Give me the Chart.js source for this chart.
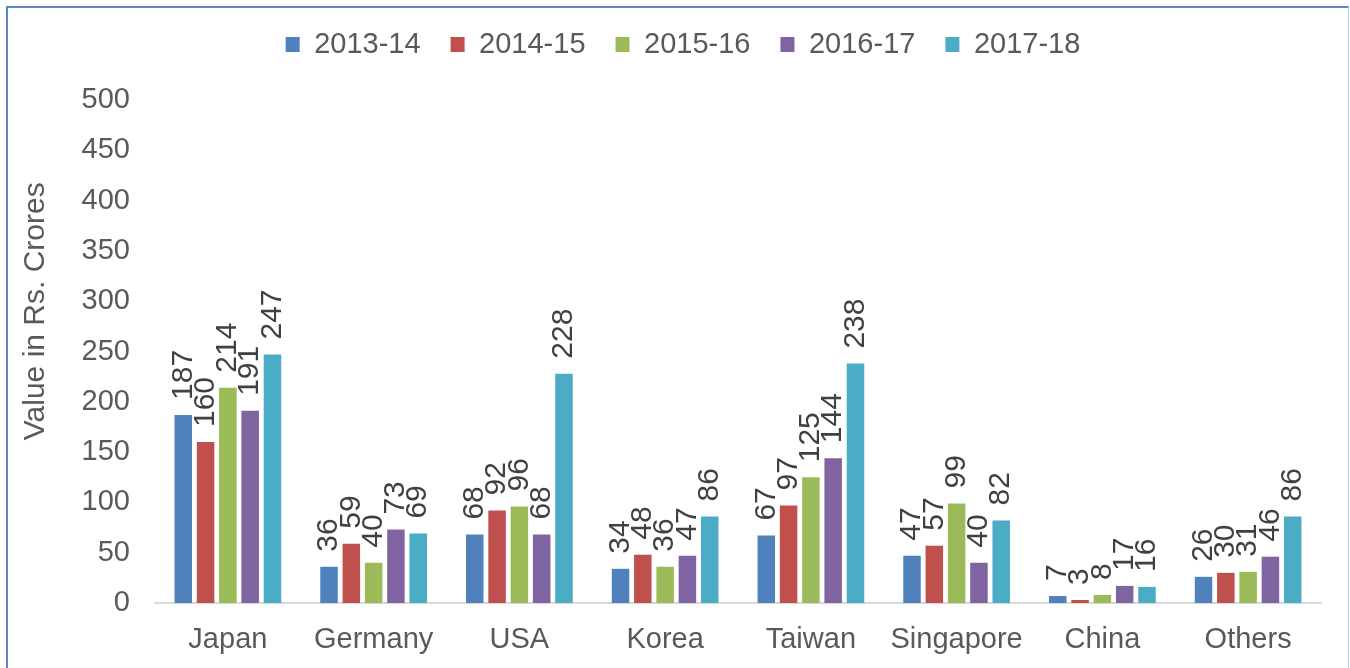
<!DOCTYPE html>
<html>
<head>
<meta charset="utf-8">
<script src="https://cdn.jsdelivr.net/npm/chart.js@4"></script>
<style>
  html, body { margin: 0; padding: 0; background: #fff; overflow: hidden; }
  #wrap { position: relative; width: 1350px; height: 668px; }
  #frame {
    position: absolute; left: 6px; top: 6px; width: 1340px; height: 700px;
    border-left: 2px solid #5a8ac6; border-top: 2px solid #5a8ac6; border-right: 1px solid #b4c7e7;
    pointer-events: none;
  }
</style>
</head>
<body>
<div id="wrap">
  <canvas id="chart" width="1350" height="668"></canvas>
  <div id="frame"></div>
</div>
<script>
const categories = ["Japan", "Germany", "USA", "Korea", "Taiwan", "Singapore", "China", "Others"];
const seriesNames = ["2013-14", "2014-15", "2015-16", "2016-17", "2017-18"];
const values1314 = [187, 36, 68, 34, 67, 47, 7, 26];
const values1415 = [160, 59, 92, 48, 97, 57, 3, 30];
const values1516 = [214, 40, 96, 36, 125, 99, 8, 31];
const values1617 = [191, 73, 68, 47, 144, 40, 17, 46];
const values1718 = [247, 69, 228, 86, 238, 82, 16, 86];
const yTicks = [0, 50, 100, 150, 200, 250, 300, 350, 400, 450, 500];
const yTitle = "Value in Rs. Crores";

const colors = ["#4F81BD", "#C0504D", "#9BBB59", "#8064A2", "#4BACC6"];
const textColor = "#595959";
const font = "'Liberation Sans', Arial, sans-serif";

const allValues = [values1314, values1415, values1516, values1617, values1718];

// rotated value labels above each bar
const barLabels = {
  id: "barLabels",
  afterDatasetsDraw(chart) {
    const ctx = chart.ctx;
    ctx.save();
    ctx.font = "30px " + font;
    ctx.fillStyle = "#404040";
    ctx.textAlign = "left";
    ctx.textBaseline = "middle";
    chart.data.datasets.forEach((ds, i) => {
      chart.getDatasetMeta(i).data.forEach((bar, j) => {
        ctx.save();
        ctx.translate(bar.x, bar.y - 15);
        ctx.rotate(-Math.PI / 2);
        ctx.fillText(String(ds.data[j]), 0, 0);
        ctx.restore();
      });
    });
    ctx.restore();
  },
};

// y axis title, placed like the Excel original
const axisTitle = {
  id: "axisTitle",
  afterDraw(chart) {
    const ctx = chart.ctx;
    const area = chart.chartArea;
    ctx.save();
    ctx.font = "30px " + font;
    ctx.fillStyle = textColor;
    ctx.textAlign = "center";
    ctx.textBaseline = "middle";
    ctx.translate(36, area.top + area.height * 0.42);
    ctx.rotate(-Math.PI / 2);
    ctx.fillText(yTitle, 0, 0);
    ctx.restore();
  },
};

new Chart(document.getElementById("chart"), {
  type: "bar",
  data: {
    labels: categories,
    datasets: seriesNames.map((name, i) => ({
      label: name,
      data: allValues[i],
      backgroundColor: colors[i],
      categoryPercentage: 0.765,
      barPercentage: 0.785,
    })),
  },
  options: {
    responsive: false,
    animation: false,
    layout: { padding: { left: 45, right: 29, top: 0, bottom: 0 } },
    plugins: {
      tooltip: { enabled: false },
      legend: {
        position: "top",
        labels: {
          font: { family: font, size: 29 },
          color: textColor,
          boxWidth: 14,
          boxHeight: 15,
          padding: 30,
        },
      },
    },
    scales: {
      x: {
        grid: { display: false, drawTicks: false },
        border: { color: "#d9d9d9", width: 2 },
        ticks: {
          font: { family: font, size: 29 },
          color: textColor,
          padding: 20,
          autoSkip: false,
          maxRotation: 0,
        },
        afterFit(scale) { scale.height = 65; },
      },
      y: {
        min: 0,
        max: 500,
        grid: { display: false, drawTicks: false },
        border: { display: false },
        afterBuildTicks(scale) { scale.ticks = yTicks.map((v) => ({ value: v })); },
        ticks: {
          font: { family: font, size: 29 },
          color: textColor,
          padding: 25,
        },
        afterFit(scale) { scale.width = 110; },
      },
    },
  },
  plugins: [barLabels, axisTitle, {
    id: "legendHeight",
    beforeInit(chart) {
      const fit = chart.legend && chart.legend.fit;
      if (fit) chart.legend.fit = function () { fit.call(this); this.height = 100; };
    },
  }],
});
</script>
</body>
</html>
